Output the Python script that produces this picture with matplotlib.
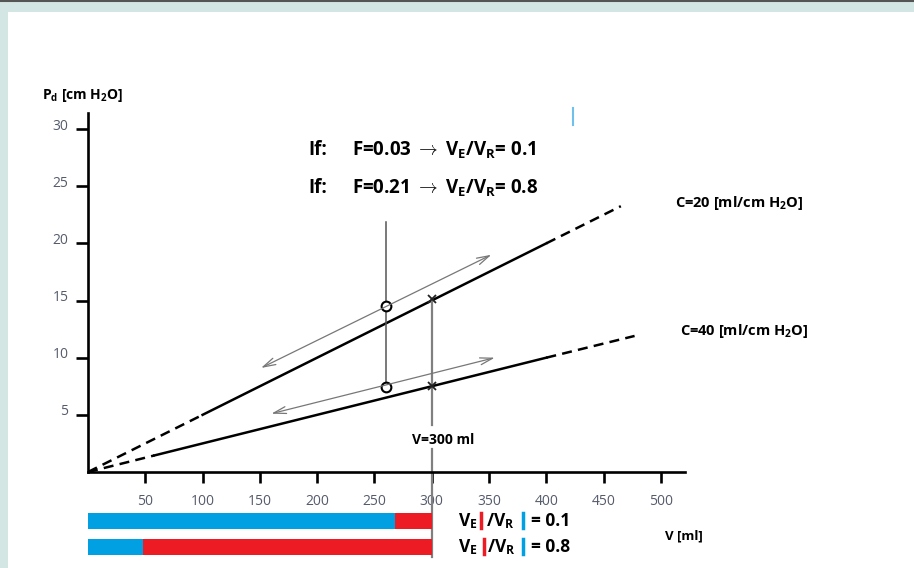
import matplotlib
matplotlib.use("Agg")
import matplotlib.pyplot as plt
from matplotlib.lines import Line2D
from matplotlib.patches import Rectangle
from matplotlib.transforms import ScaledTranslation

plt.rcParams['font.family'] = ['Open Sans', 'DejaVu Sans']
plt.rcParams['mathtext.fontset'] = 'custom'
plt.rcParams['mathtext.rm'] = 'Open Sans'
plt.rcParams['mathtext.bf'] = 'Open Sans:bold'
plt.rcParams['mathtext.it'] = 'Open Sans:italic'

# compliance lines: (V [ml], P [cm H2O]) break points
c20_v = [0, 100, 400, 465]
c20_p = [0, 5.0, 20.0, 23.25]
c40_v = [0, 58, 400, 477]
c40_p = [0, 1.45, 10.0, 11.9]

# markers
circ_v = [260, 260]
circ_p = [14.5, 7.45]
cross_v = [300, 300]
cross_p = [15.1, 7.5]

# thin double arrows (start, end)
arrow_c20 = [(151, 9.1), (352, 19.0)]
arrow_c40 = [(160, 5.1), (355, 10.0)]

# bars under the axis
bar_labels = ['0.1', '0.8']
bar_blue = [268, 48]
bar_red = [32, 252]

xticks = [50, 100, 150, 200, 250, 300, 350, 400, 450, 500]
yticks = [5, 10, 15, 20, 25, 30]

W, H = 914, 568
fx = lambda x: x / W
fy = lambda y: 1 - y / H

fig = plt.figure(figsize=(9.14, 5.68), dpi=100, facecolor='#d4e6e3')
fig.add_artist(Rectangle((fx(8), 0), 1, fy(12), transform=fig.transFigure,
                         facecolor='white', edgecolor='none', zorder=-10))
fig.add_artist(Line2D([0, 1], [fy(1), fy(1)], color='#555555', lw=1.5))
fig.add_artist(Line2D([fx(573), fx(573)], [fy(108), fy(125)], color='#6fc0ea', lw=1.5))

ax = fig.add_axes([fx(88), fy(472), (685 - 88) / W, (472 - 113) / H])
ax.set_xlim(0, 521)
ax.set_ylim(0, 31.4)
ax.patch.set_alpha(0)
for s in ['top', 'right']:
    ax.spines[s].set_visible(False)
for s in ['left', 'bottom']:
    ax.spines[s].set_linewidth(1.9)
ax.set_xticks(xticks)
ax.set_yticks(yticks)
ax.tick_params(axis='x', direction='out', length=8, width=1.9, pad=8,
               labelsize=10, labelcolor='#555b6b')
ax.tick_params(axis='y', direction='out', length=9, width=1.9, pad=5,
               labelsize=10, labelcolor='#555b6b')
for lbl in ax.get_yticklabels():
    lbl.set_transform(lbl.get_transform() + ScaledTranslation(0, 0.05, fig.dpi_scale_trans))

# compliance lines: dashed ends, solid middle
for v, p in [(c20_v, c20_p), (c40_v, c40_p)]:
    ax.plot(v[:2], p[:2], color='black', lw=1.8, dashes=(4, 2.5))
    ax.plot(v[1:3], p[1:3], color='black', lw=1.8)
    ax.plot(v[2:], p[2:], color='black', lw=1.8, dashes=(4, 2.5))

# vertical guide lines
ax.plot([circ_v[0], circ_v[0]], [circ_p[1], 21.85], color='#555555', lw=1.1)
ax.plot([cross_v[0], cross_v[0]], [cross_p[0], 4.1], color='#808080', lw=1.6)
ax.plot([cross_v[0], cross_v[0]], [2.0, -7.4], color='#808080', lw=1.6, clip_on=False)

for (x0, y0), (x1, y1) in [arrow_c20, arrow_c40]:
    ax.annotate('', xy=(x1, y1), xytext=(x0, y0),
                arrowprops=dict(arrowstyle='<->,head_length=0.9,head_width=0.25',
                                color='#777777', lw=0.9, shrinkA=0, shrinkB=0))

ax.plot(circ_v, circ_p, 'o', ms=7, mfc='white', mec='black', mew=1.5)
ax.plot(cross_v, cross_p, 'x', ms=6, color='#222222', mew=1.3)

ax.text(310, 2.8, 'V=300 ml', ha='center', va='center', fontsize=10, fontweight='bold')

# annotations
fig.text(fx(308), fy(150), 'If:', fontsize=13.5, fontweight='bold', va='center')
fig.text(fx(352), fy(150), r'F=0.03 $\rightarrow$ V$_\mathbf{E}$/V$_\mathbf{R}$= 0.1',
         fontsize=13.5, fontweight='bold', va='center')
fig.text(fx(308), fy(188), 'If:', fontsize=13.5, fontweight='bold', va='center')
fig.text(fx(352), fy(188), r'F=0.21 $\rightarrow$ V$_\mathbf{E}$/V$_\mathbf{R}$= 0.8',
         fontsize=13.5, fontweight='bold', va='center')
fig.text(fx(675), fy(203), r'C=20 [ml/cm H$_\mathbf{2}$O]', fontsize=10.5,
         fontweight='bold', va='center')
fig.text(fx(680), fy(331), r'C=40 [ml/cm H$_\mathbf{2}$O]', fontsize=10.5,
         fontweight='bold', va='center')
fig.text(fx(42), fy(96), r'P$_\mathbf{d}$ [cm H$_\mathbf{2}$O]', fontsize=10,
         fontweight='bold', va='center')
fig.text(fx(665), fy(536), 'V [ml]', fontsize=9.5, fontweight='bold', va='center')

# bars
ax2 = fig.add_axes([fx(88), fy(560), (685 - 88) / W, 52 / H])
ax2.set_xlim(0, 521)
ax2.set_ylim(1.5, -0.5)
ax2.axis('off')
rows = range(len(bar_labels))
ax2.barh(rows, bar_blue, height=0.62, color='#00a0e3')
ax2.barh(rows, bar_red, left=bar_blue, height=0.62, color='#ed1c24')

for i, lab in zip(rows, bar_labels):
    ax2.text(323, i, r'V$_\mathbf{E}$', fontsize=12.5, fontweight='bold', va='center', clip_on=False)
    ax2.text(347 + i, i, r'/V$_\mathbf{R}$', fontsize=12.5, fontweight='bold', va='center', clip_on=False)
    ax2.text(387, i, '= ' + lab, fontsize=12.5, fontweight='bold', va='center', clip_on=False)
    ax2.plot([343 + 3 * i, 343 + 3 * i], [i - 0.3, i + 0.25], color='#ed1c24', lw=2.5, clip_on=False)
    ax2.plot([380, 380], [i - 0.3, i + 0.25], color='#00a0e3', lw=2.5, clip_on=False)

fig.savefig('out.png', dpi=100, facecolor=fig.get_facecolor())
